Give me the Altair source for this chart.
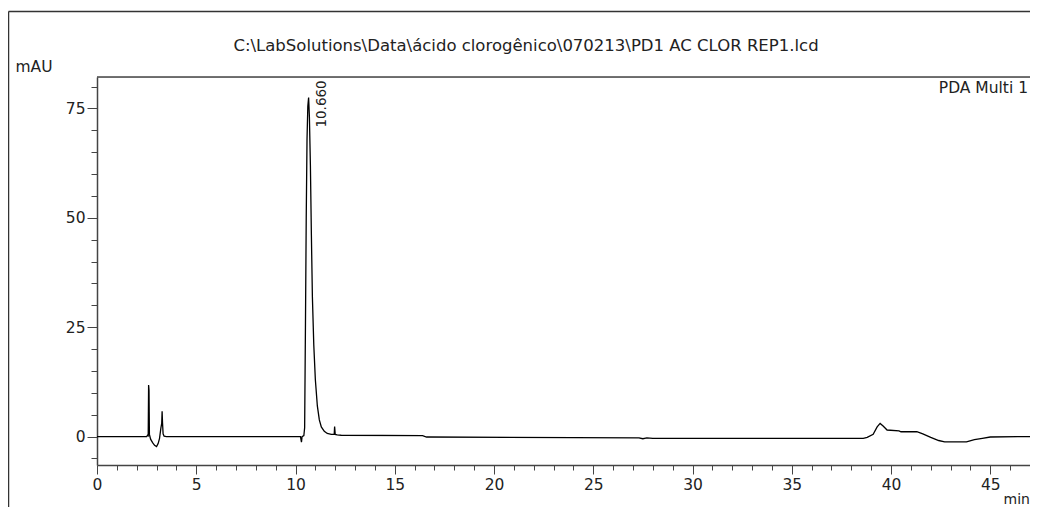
import altair as alt
import pandas as pd

# Chromatogram trace (time in min, absorbance in mAU)
time_min = [0.0, 2.50, 2.55, 2.58, 2.60, 2.62, 2.64, 2.70, 2.80, 2.90, 3.00, 3.08, 3.15, 3.22, 3.26, 3.28,
            3.30, 3.33, 3.38, 3.50, 10.25, 10.30, 10.33, 10.42, 10.46, 10.50, 10.54, 10.58, 10.62, 10.66,
            10.70, 10.75, 10.80, 10.85, 10.92, 11.00, 11.10, 11.20, 11.30, 11.45, 11.60, 11.80, 11.95,
            11.97, 12.00, 12.10, 12.30, 16.40, 16.60, 27.30, 27.50, 27.70, 28.00, 38.60, 38.80, 39.10,
            39.30, 39.45, 39.60, 39.80, 40.40, 40.50, 41.30, 41.60, 42.00, 42.40, 42.70, 43.80, 44.20,
            44.60, 45.00, 47.00]
mau = [0.0, 0.0, 0.3, 0.2, 11.8, 10.6, 0.5, -0.6, -1.4, -2.0, -2.3, -1.6, -0.4, 2.0, 3.0, 5.8,
       3.2, 0.6, 0.1, 0.0, 0.0, -1.3, 0.0, 0.2, 2.0, 25.0, 50.0, 68.0, 75.5, 77.5,
       73.0, 62.0, 46.0, 32.0, 21.0, 13.0, 7.0, 3.8, 2.2, 1.2, 0.7, 0.5, 0.5,
       2.3, 0.5, 0.4, 0.3, 0.2, -0.1, -0.3, -0.5, -0.3, -0.4, -0.4, -0.2, 0.5,
       2.2, 3.0, 2.4, 1.5, 1.3, 1.1, 1.1, 0.6, -0.2, -0.9, -1.2, -1.2, -0.7,
       -0.4, -0.1, 0.0]

peak_time = [10.66]
peak_mau = [77.5]
peak_label = ["10.660"]

title_text = r"C:\LabSolutions\Data\ácido clorogênico\070213\PD1 AC CLOR REP1.lcd"
channel_text = "PDA Multi 1"

x_ticks = list(range(0, 48))
y_ticks = list(range(-5, 81, 5))

FONT = "DejaVu Sans"
INK = "#222222"
W, H = 933, 388

trace = pd.DataFrame({"t": time_min, "v": mau})
peaks = pd.DataFrame({"t": peak_time, "v": peak_mau, "lab": peak_label})
one = pd.DataFrame({"k": [0]})

x_scale = alt.Scale(domain=[0, 47.0], nice=False, zero=False)
y_scale = alt.Scale(domain=[-6.5, 82.2], nice=False, zero=False)

x_axis = alt.Axis(
    values=x_ticks, tickCount=500, labelOverlap=False, format="d",
    labelExpr="datum.value % 5 === 0 ? datum.label : ''",
    tickSize={"condition": {"test": "datum.value % 5 === 0", "value": 9}, "value": 5},
    grid=False, domainColor="#444444", domainWidth=1.5, tickColor="#444444", tickWidth=1,
    labelFont=FONT, labelFontSize=15.5, labelColor=INK, labelPadding=3, labelFlush=False,
    title="min", titleFont=FONT, titleFontSize=14, titleFontWeight="normal", titleColor=INK,
    titleAnchor="start", titleAlign="left", titleBaseline="alphabetic", titleX=906, titleY=38,
)
y_axis = alt.Axis(
    values=y_ticks, tickCount=500, labelOverlap=False, format="d",
    labelExpr="datum.value % 25 === 0 ? datum.label : ''",
    tickSize={"condition": {"test": "datum.value % 25 === 0", "value": 10}, "value": 6},
    grid=False, domainColor="#444444", domainWidth=1.5, tickColor="#444444", tickWidth=1,
    labelFont=FONT, labelFontSize=15.5, labelColor=INK, labelPadding=2, labelFlush=False,
    title="mAU", titleFont=FONT, titleFontSize=15.5, titleFontWeight="normal", titleColor=INK,
    titleAngle=0, titleAlign="left", titleBaseline="alphabetic", titleX=-82, titleY=-6,
)

line = alt.Chart(trace).mark_line(color="#000000", strokeWidth=1.3, interpolate="linear").encode(
    x=alt.X("t:Q", scale=x_scale, axis=x_axis),
    y=alt.Y("v:Q", scale=y_scale, axis=y_axis),
)

peak_lbl = alt.Chart(peaks).mark_text(
    angle=270, align="left", baseline="middle", dx=-30, dy=13,
    font=FONT, fontSize=13.5, color=INK,
).encode(x=alt.X("t:Q", scale=x_scale), y=alt.Y("v:Q", scale=y_scale), text="lab:N")

title_mark = alt.Chart(one).mark_text(
    text=title_text, align="center", baseline="alphabetic", font=FONT, fontSize=16.5, color=INK,
).encode(x=alt.value(429), y=alt.value(-26))

channel_mark = alt.Chart(one).mark_text(
    text=channel_text, align="right", baseline="alphabetic", font=FONT, fontSize=15.5, color=INK,
).encode(x=alt.value(931), y=alt.value(16))

plot_top = alt.Chart(one).mark_rule(color="#444444", strokeWidth=1.5).encode(
    x=alt.value(0), x2=alt.value(W), y=alt.value(0))
frame_top = alt.Chart(one).mark_rule(color="#333333", strokeWidth=1.5).encode(
    x=alt.value(-88.5), x2=alt.value(W), y=alt.value(-65.5))
frame_left = alt.Chart(one).mark_rule(color="#333333", strokeWidth=1.5).encode(
    x=alt.value(-88.5), y=alt.value(-65.5), y2=alt.value(440))

chart = alt.layer(
    line, peak_lbl, title_mark, channel_mark, plot_top, frame_top, frame_left
).properties(
    width=W, height=H,
    autosize=alt.AutoSizeParams(type="none"),
    padding={"left": 89, "top": 69, "right": 0, "bottom": 42},
).configure_view(stroke=None).configure(background="white")

chart.save("out.html", embed_options={"renderer": "svg", "actions": False})
